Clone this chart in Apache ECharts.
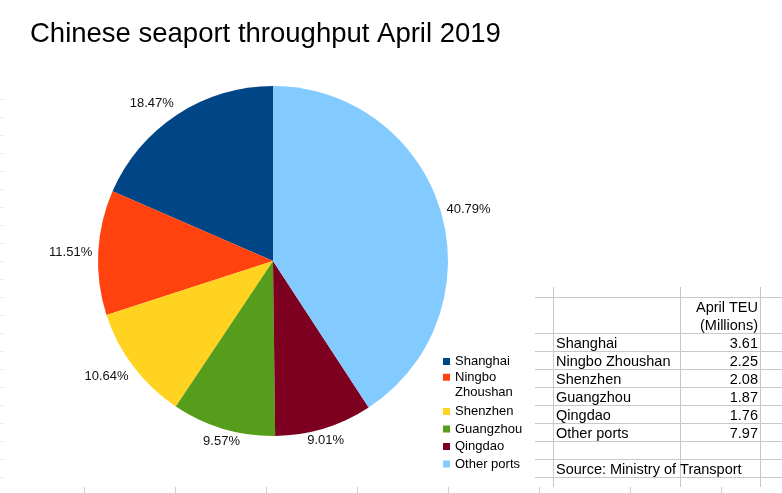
<!DOCTYPE html>
<html><head><meta charset="utf-8">
<script src="https://cdn.jsdelivr.net/npm/echarts@6/dist/echarts.min.js"></script>
<style>html,body{margin:0;padding:0;background:#fff}#c{width:782px;height:493px}</style>
</head><body><div id="c"></div>
<script>
// ---- data ----
const ports = ['Shanghai', 'Ningbo Zhoushan', 'Shenzhen', 'Guangzhou', 'Qingdao', 'Other ports'];
const teuMillions = [3.61, 2.25, 2.08, 1.87, 1.76, 7.97];
const sharePercent = [18.47, 11.51, 10.64, 9.57, 9.01, 40.79];
const titleText = 'Chinese seaport throughput April 2019';
const tableHeader = ['April TEU', '(Millions)'];
const sourceText = 'Source: Ministry of Transport';

// ---- style / layout ----
const colors = ['#004586', '#ff420e', '#ffd320', '#579d1c', '#7e0021', '#83caff'];
const FONT = 'Liberation Sans, Arial, sans-serif';
const PIE = { cx: 273, cy: 261, r: 175, gap: 6 };
const TABLE = { xLeft: 535, xRight: 782, colA: 553, colB: 680, colC: 760, top: 297, rowH: 18, vTop: 287, vBottom: 487 };
const LINE_COLOR = '#c8c8c8';
const pageTicksX = [84, 175, 266, 357, 448, 539, 630, 721];

const chart = echarts.init(document.getElementById('c'), null, { renderer: 'canvas' });

const graphics = [];
// faint page marks on left edge
for (let y = TABLE.top - TABLE.rowH * 11; y <= 490; y += TABLE.rowH) {
  graphics.push({ type: 'line', silent: true, shape: { x1: 0, y1: y + 0.5, x2: 4, y2: y + 0.5 }, style: { stroke: '#ececec', lineWidth: 1 } });
}
// bottom page ticks
pageTicksX.forEach(x => graphics.push({ type: 'line', silent: true, shape: { x1: x + 0.5, y1: 487, x2: x + 0.5, y2: 493 }, style: { stroke: '#cfcfcf', lineWidth: 1 } }));

// table grid
const hRows = [0, 2, 3, 4, 5, 6, 7, 8, 9, 10];
hRows.forEach(k => {
  const y = TABLE.top + k * TABLE.rowH + 0.5;
  graphics.push({ type: 'line', silent: true, shape: { x1: TABLE.xLeft, y1: y, x2: TABLE.xRight, y2: y }, style: { stroke: LINE_COLOR, lineWidth: 1 } });
});
[TABLE.colA, TABLE.colB, TABLE.colC].forEach(x => {
  graphics.push({ type: 'line', silent: true, shape: { x1: x + 0.5, y1: TABLE.vTop, x2: x + 0.5, y2: TABLE.vBottom }, style: { stroke: LINE_COLOR, lineWidth: 1 } });
});
function cellText(text, x, k, align) {
  return { type: 'text', silent: true, z: 10, style: { text: text, x: x, y: TABLE.top + k * TABLE.rowH + 10.5, align: align, verticalAlign: 'middle', fontSize: 14.5, fontFamily: FONT, fill: '#000' } };
}
tableHeader.forEach((t, i) => graphics.push(cellText(t, TABLE.colC - 2, i, 'right')));
ports.forEach((p, i) => {
  graphics.push(cellText(p, TABLE.colA + 3, i + 2, 'left'));
  graphics.push(cellText(teuMillions[i].toFixed(2), TABLE.colC - 2, i + 2, 'right'));
});
graphics.push(cellText(sourceText, TABLE.colA + 3, ports.length + 3, 'left'));

const total = sharePercent.reduce((a, b) => a + b, 0);

const legendBase = {
  orient: 'vertical', left: 443, padding: 0,
  itemWidth: 7, itemHeight: 7, itemGap: 4.5, icon: 'rect',
  textStyle: { fontSize: 13, color: '#000', fontFamily: FONT },
  formatter: n => n === 'Ningbo Zhoushan' ? '\nNingbo\nZhoushan' : n
};
const legendItems = names => names.map(n => n === 'Ningbo Zhoushan'
  ? { name: n, textStyle: { lineHeight: 15.5 } } : { name: n });

const option = {
  animation: false,
  backgroundColor: '#fff',
  title: {
    text: titleText, left: 30, top: 20, padding: 0,
    textStyle: { fontSize: 27.5, fontWeight: 'normal', color: '#000', fontFamily: FONT }
  },
  legend: [
    Object.assign({}, legendBase, { top: 355, data: legendItems(ports.slice(0, 1)) }),
    Object.assign({}, legendBase, { bottom: 22.5, data: legendItems(ports.slice(1)) })
  ],
  color: colors,
  graphic: { elements: graphics },
  series: [{
    type: 'pie',
    center: [PIE.cx, PIE.cy],
    radius: PIE.r,
    startAngle: 90,
    clockwise: false,
    avoidLabelOverlap: false,
    itemStyle: { borderWidth: 0 },
    emphasis: { disabled: true },
    label: {
      show: true, position: 'outside', fontSize: 13, color: '#111', fontFamily: FONT,
      formatter: p => p.value.toFixed(2) + '%'
    },
    labelLine: { show: false, length: PIE.gap, length2: 0 },
    labelLayout: function (p) {
      const i = p.dataIndex;
      let before = 0;
      for (let j = 0; j < i; j++) before += sharePercent[j];
      const mid = (before + sharePercent[i] / 2) / total * Math.PI * 2;
      const dx = -Math.sin(mid), dy = -Math.cos(mid);
      const R = PIE.r + PIE.gap;
      return {
        x: PIE.cx + R * dx,
        y: PIE.cy + R * dy,
        align: Math.abs(dx) < 0.35 ? 'center' : (dx < 0 ? 'right' : 'left'),
        verticalAlign: Math.abs(dy) < 0.35 ? 'middle' : (dy < 0 ? 'bottom' : 'top')
      };
    },
    data: ports.map((n, i) => ({ name: n, value: sharePercent[i] }))
  }]
};
chart.setOption(option);
</script>
</body></html>
